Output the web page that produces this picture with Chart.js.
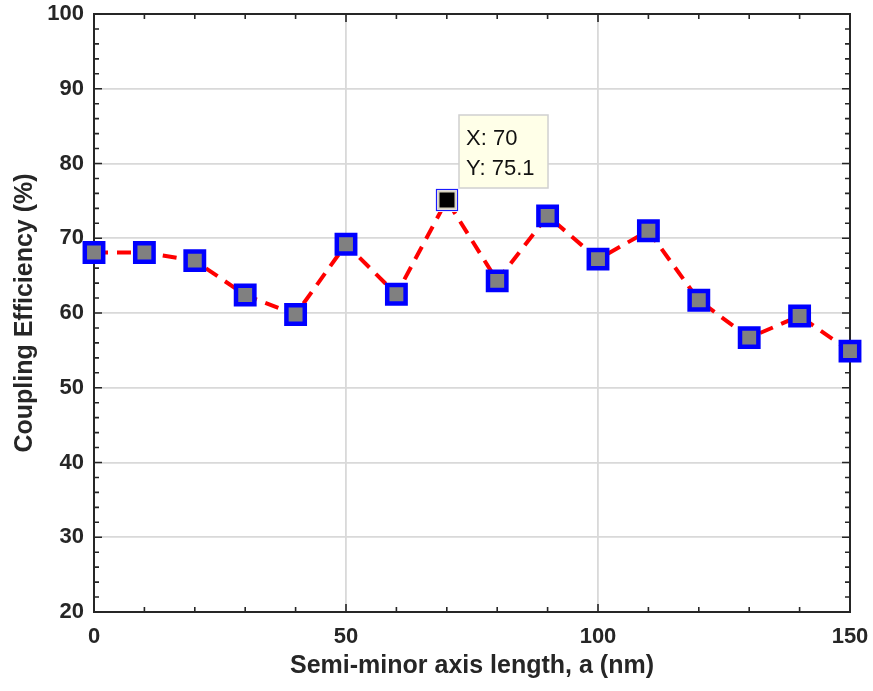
<!DOCTYPE html>
<html><head><meta charset="utf-8">
<script src="https://cdn.jsdelivr.net/npm/chart.js@4"></script>
<style>html,body{margin:0;padding:0;background:#fff}#wrap{width:873px;height:691px}</style>
</head><body><div id="wrap"><canvas id="c" width="873" height="691"></canvas></div>
<script>
const semiMinorAxis = [0,10,20,30,40,50,60,70,80,90,100,110,120,130,140,150];
const couplingEfficiency = [68.1,68.1,67.0,62.4,59.8,69.2,62.5,75.1,64.3,73.0,67.2,71.0,61.7,56.7,59.6,54.9];
const xTicks = [0,50,100,150];
const yTicks = [20,30,40,50,60,70,80,90,100];
const highlightIndex = 7;

const AX = '#262626';
const FONT = '"Liberation Sans", Arial, Helvetica, sans-serif';

const framePlugin = {
  id: 'frame',
  beforeDatasetsDraw(chart) {
    const {ctx, chartArea: a, scales: {x, y}} = chart;
    ctx.save();
    ctx.strokeStyle = AX;
    ctx.lineWidth = 2;
    ctx.strokeRect(a.left, a.top, a.right - a.left, a.bottom - a.top);
    ctx.lineWidth = 1.6;
    ctx.beginPath();
    for (let v = 0; v <= 150; v += 10) {
      const px = x.getPixelForValue(v);
      const len = (v % 50 === 0) ? 8 : 5;
      ctx.moveTo(px, a.bottom); ctx.lineTo(px, a.bottom - len);
      ctx.moveTo(px, a.top); ctx.lineTo(px, a.top + len);
    }
    for (let v = 20; v <= 100; v += 2) {
      const py = y.getPixelForValue(v);
      const len = (v % 10 === 0) ? 8 : 5;
      ctx.moveTo(a.left, py); ctx.lineTo(a.left + len, py);
      ctx.moveTo(a.right, py); ctx.lineTo(a.right - len, py);
    }
    ctx.stroke();
    ctx.restore();
  },
  afterDatasetsDraw(chart) {
    const {ctx} = chart;
    const pt = chart.getDatasetMeta(0).data[highlightIndex];
    const px = Math.round(pt.x), py = Math.round(pt.y);
    ctx.save();
    ctx.fillStyle = '#ffffff';
    ctx.fillRect(px - 12, py - 12, 24, 24);
    ctx.strokeStyle = '#1a1aff';
    ctx.lineWidth = 1.2;
    ctx.strokeRect(px - 10.5, py - 10.5, 21, 21);
    ctx.fillStyle = '#d8d4c0';
    ctx.fillRect(px - 9.5, py - 9.5, 19, 19);
    ctx.fillStyle = '#000000';
    ctx.fillRect(px - 7.5, py - 7.5, 15, 15);
    const bx = px + 12, by = py - 85, bw = 89, bh = 73;
    ctx.fillStyle = '#ffffe8';
    ctx.fillRect(bx, by, bw, bh);
    ctx.strokeStyle = '#d0d0d0';
    ctx.lineWidth = 1.5;
    ctx.strokeRect(bx, by, bw, bh);
    ctx.fillStyle = '#111';
    ctx.font = '22px ' + FONT;
    ctx.textBaseline = 'middle';
    ctx.textAlign = 'left';
    ctx.fillText('X: ' + semiMinorAxis[highlightIndex], bx + 7, by + 24);
    ctx.fillText('Y: ' + couplingEfficiency[highlightIndex], bx + 7, by + 54);
    ctx.restore();
  }
};

new Chart(document.getElementById('c'), {
  type: 'line',
  data: {
    datasets: [{
      data: semiMinorAxis.map((v, i) => ({x: v, y: couplingEfficiency[i]})),
      borderColor: '#ff0000',
      borderWidth: 4,
      borderDash: [14, 9],
      pointStyle: 'rect',
      pointRadius: 13,
      pointHoverRadius: 13,
      pointBorderWidth: 4.5,
      pointBorderColor: '#0000ff',
      pointBackgroundColor: '#808080',
      tension: 0,
      clip: false
    }]
  },
  options: {
    responsive: false,
    animation: false,
    events: [],
    layout: {autoPadding: false, padding: {left: 0, right: 23, top: 14, bottom: 0}},
    plugins: {legend: {display: false}, tooltip: {enabled: false}},
    scales: {
      x: {
        type: 'linear', min: 0, max: 150,
        afterBuildTicks(s) { s.ticks = xTicks.map(v => ({value: v})); },
        afterFit(s) { s.height = 79; s.paddingLeft = 0; s.paddingRight = 0; },
        grid: {color: '#d9d9d9', lineWidth: 1.8, drawTicks: false},
        border: {display: false},
        ticks: {color: AX, padding: 12, font: {family: FONT, size: 22, weight: 'bold'}, maxRotation: 0},
        title: {display: true, text: 'Semi-minor axis length, a (nm)', color: AX,
                font: {family: FONT, size: 25, weight: 'bold'}, padding: {top: 4, bottom: 10}}
      },
      y: {
        type: 'linear', min: 20, max: 100,
        afterBuildTicks(s) { s.ticks = yTicks.map(v => ({value: v})); },
        afterFit(s) { s.width = 94; s.paddingTop = 0; s.paddingBottom = 0; },
        grid: {color: '#d9d9d9', lineWidth: 1.8, drawTicks: false},
        border: {display: false},
        ticks: {color: AX, padding: 10, font: {family: FONT, size: 22, weight: 'bold'}},
        title: {display: true, text: 'Coupling Efficiency (%)', color: AX,
                font: {family: FONT, size: 25, weight: 'bold'}, padding: {top: 10, bottom: 4}}
      }
    }
  },
  plugins: [framePlugin]
});
</script></body></html>
